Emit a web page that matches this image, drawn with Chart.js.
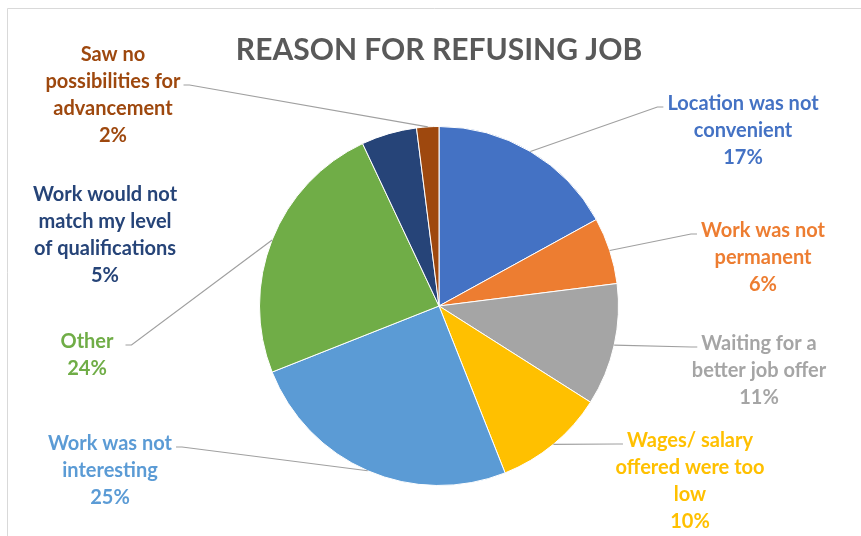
<!DOCTYPE html>
<html>
<head>
<meta charset="utf-8">
<script src="https://cdn.jsdelivr.net/npm/chart.js@4"></script>
<style>
  html, body { margin: 0; padding: 0; background: #ffffff; }
  #wrap { width: 861px; height: 536px; }
</style>
</head>
<body>
<div id="wrap"><canvas id="chart" width="861" height="536"></canvas></div>
<script>
// Reasons given for refusing a job offer (share of respondents, %)
const categories = [
  'Location was not convenient',
  'Work was not permanent',
  'Waiting for a better job offer',
  'Wages/ salary offered were too low',
  'Work was not interesting',
  'Other',
  'Work would not match my level of qualifications',
  'Saw no possibilities for advancement'
];
const shares = [17, 6, 11, 10, 25, 24, 5, 2];
const sliceColors = ['#4472C4', '#ED7D31', '#A5A5A5', '#FFC000', '#5B9BD5', '#70AD47', '#264478', '#9E480E'];
const titleText = 'REASON FOR REFUSING JOB';

// Label text split into lines (the last line carries the percentage)
const labelLines = [
  ['Location was not', 'convenient'],
  ['Work was not', 'permanent'],
  ['Waiting for a', 'better job offer'],
  ['Wages/ salary', 'offered were too', 'low'],
  ['Work was not', 'interesting'],
  ['Other'],
  ['Work would not', 'match my level', 'of qualifications'],
  ['Saw no', 'possibilities for', 'advancement']
];

// Label placement: centre x, first baseline, leader side, line the leader attaches to, gap
const labelLayout = [
  { x: 743, y: 110, side: 'left',  line: 0, gap: 4,  leader: true },
  { x: 763, y: 237, side: 'left',  line: 0, gap: 4,  leader: true },
  { x: 759, y: 350, side: 'left',  line: 0, gap: 4,  leader: true },
  { x: 690, y: 447, side: 'left',  line: 0, gap: 4,  leader: true },
  { x: 110, y: 450, side: 'right', line: 0, gap: 4,  leader: true },
  { x: 87,  y: 348, side: 'right', line: 0, gap: 12, leader: true },
  { x: 105, y: 201, side: 'right', line: 0, gap: 4,  leader: false },
  { x: 113, y: 61,  side: 'right', line: 1, gap: 3,  leader: true }
];
const LINE_STEP = 27;
const LABEL_FONT = 'bold 20px Lato';

const framePlugin = {
  id: 'frame',
  beforeDraw(chart) {
    const ctx = chart.ctx;
    ctx.save();
    ctx.fillStyle = '#ffffff';
    ctx.fillRect(0, 0, chart.width, chart.height);
    ctx.strokeStyle = '#d9d9d9';
    ctx.lineWidth = 1;
    ctx.beginPath();
    ctx.moveTo(7.5, chart.height);
    ctx.lineTo(7.5, 8.5);
    ctx.lineTo(chart.width, 8.5);
    ctx.stroke();
    ctx.restore();
  }
};

const labelPlugin = {
  id: 'sliceLabels',
  afterDraw(chart) {
    const ctx = chart.ctx;
    const arcs = chart.getDatasetMeta(0).data;
    const values = chart.data.datasets[0].data;
    ctx.save();
    ctx.font = LABEL_FONT;
    ctx.textAlign = 'center';
    ctx.textBaseline = 'alphabetic';
    arcs.forEach((arc, i) => {
      const lay = labelLayout[i];
      const lines = labelLines[i].concat([values[i] + '%']);
      // leader line from label to the middle of the slice's outer edge
      if (lay.leader) {
        const p = arc.getProps(['x', 'y', 'startAngle', 'endAngle', 'outerRadius'], true);
        const mid = (p.startAngle + p.endAngle) / 2;
        const ex = p.x + Math.cos(mid) * p.outerRadius;
        const ey = p.y + Math.sin(mid) * p.outerRadius;
        const w = ctx.measureText(lines[lay.line]).width;
        const ay = lay.y + lay.line * LINE_STEP - 3;
        const dir = lay.side === 'left' ? -1 : 1;
        const ax = lay.x + dir * (w / 2 + lay.gap);
        ctx.strokeStyle = '#a0a0a0';
        ctx.lineWidth = 1.2;
        ctx.beginPath();
        ctx.moveTo(ax, ay);
        ctx.lineTo(ax + dir * 6, ay);
        ctx.lineTo(ex, ey);
        ctx.stroke();
      }
      ctx.fillStyle = sliceColors[i];
      lines.forEach((t, k) => {
        ctx.fillText(t, lay.x, lay.y + k * LINE_STEP);
      });
    });
    ctx.restore();
  }
};

new Chart(document.getElementById('chart'), {
  type: 'pie',
  data: {
    labels: categories,
    datasets: [{
      data: shares,
      backgroundColor: sliceColors,
      borderColor: '#ffffff',
      borderWidth: 1
    }]
  },
  options: {
    responsive: false,
    devicePixelRatio: 1,
    animation: false,
    layout: { padding: { left: 17, right: 0, top: 0, bottom: 50 } },
    plugins: {
      legend: { display: false },
      tooltip: { enabled: false },
      title: {
        display: true,
        text: titleText,
        color: '#595959',
        font: { family: 'Lato', size: 30, weight: 'bold', lineHeight: 1.2 },
        padding: { top: 32, bottom: 58 }
      }
    }
  },
  plugins: [framePlugin, labelPlugin]
});
</script>
</body>
</html>
